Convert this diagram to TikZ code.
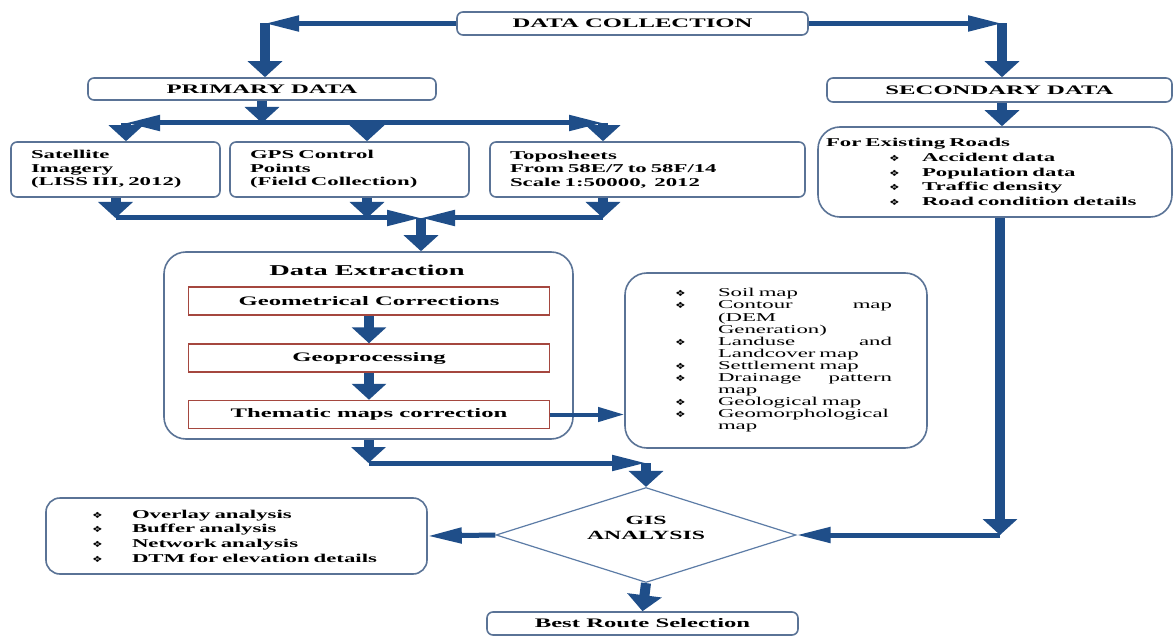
\documentclass[tikz,border=0pt]{standalone}
\usepackage{fontspec}
\setmainfont{Liberation Serif}[FakeStretch=1.9]
\newfontfamily\symf{DejaVu Sans}[FakeStretch=1.4]
\usetikzlibrary{arrows.meta,shapes.geometric}
\definecolor{arrc}{HTML}{1F4E89}
\definecolor{bordc}{HTML}{5A7396}
\definecolor{redc}{HTML}{A5473F}
\definecolor{diac}{HTML}{5C7CA6}
\newcommand\bul{{\symf\fontsize{8.5}{8.5}\selectfont ❖}}
\newcommand\litem[3]{\hspace*{#1}\makebox[#2][l]{\bul}#3}
\newcommand\thl[2]{\hspace*{40pt}\makebox[43pt][l]{#1}#2}
\newcommand\jl[2]{\makebox[174pt][l]{#1\hfill #2}}
\begin{document}
\begin{tikzpicture}[x=1pt,y=-1pt,
  box/.style={draw=bordc, line width=1.6pt, fill=white, rounded corners=6pt, inner sep=0pt,
    font=\bfseries\fontsize{13}{15}\selectfont},
  sbox/.style={box, align=left, font=\bfseries\fontsize{12}{13.5}\selectfont},
  bigbox/.style={box, rounded corners=22pt},
  redbox/.style={draw=redc, line width=1.5pt, fill=white, inner sep=0pt,
    minimum width=361pt, minimum height=28pt, font=\bfseries\fontsize{13}{15}\selectfont},
  varrow/.style={draw=arrc, line width=10pt, -{Triangle[width=34pt,length=16pt]}},
  harrow/.style={draw=arrc, line width=5pt, -{Triangle[width=15pt,length=34pt]}},
  tharrow/.style={draw=arrc, line width=4pt, -{Triangle[width=14pt,length=26pt]}},
]
\useasboundingbox (0,0) rectangle (1174,636);
\fill[white] (0,0) rectangle (1174,636);

% top level
\node[box, minimum width=351pt, minimum height=23pt] (dc) at (632.5,23.5) {DATA COLLECTION};
\node[box, minimum width=348pt, minimum height=22pt] (pd) at (262,89) {PRIMARY DATA};
\node[box, minimum width=345pt, minimum height=24pt] (sd) at (999.5,90) {SECONDARY DATA};

% primary sources
\node[sbox, minimum width=209pt, minimum height=55pt, text width=169pt, inner xsep=20pt] (sat) at (115.5,169.5)
  {\mbox{Satellite}\\\mbox{Imagery}\\\mbox{(LISS III, 2012)}};
\node[sbox, minimum width=239pt, minimum height=55pt, text width=199pt, inner xsep=20pt] (gps) at (349.5,169.5)
  {\mbox{GPS Control}\\\mbox{Points}\\\mbox{(Field Collection)}};
\node[sbox, minimum width=315pt, minimum height=55pt, text width=275pt, inner xsep=20pt] (topo) at (647.5,169.5)
  {\mbox{Toposheets}\\\mbox{From 58E/7 to 58F/14}\\\mbox{Scale 1:50000,\ \ 2012}};

% secondary
\node[bigbox, align=left, font=\bfseries\fontsize{12}{14.7}\selectfont, minimum width=354pt, minimum height=90pt,
  text width=338pt, inner xsep=8pt] (fer) at (995,172)
  {For Existing Roads\\
   \litem{63pt}{33pt}{Accident data}\\
   \litem{63pt}{33pt}{Population data}\\
   \litem{63pt}{33pt}{Traffic density}\\
   \litem{63pt}{33pt}{Road condition details}};

% data extraction
\node[bigbox, minimum width=409pt, minimum height=187pt] (de) at (368.5,345.5) {};
\node[font=\bfseries\fontsize{15}{17}\selectfont, inner sep=0pt] (detitle) at (367,270) {Data Extraction};
\node[redbox] (gc) at (369,301) {Geometrical Corrections};
\node[redbox] (gp) at (369,358) {Geoprocessing};
\node[redbox] (tm) at (369,414.5) {Thematic maps correction};

% thematic maps list
\node[bigbox, align=left, font=\fontsize{12}{12.1}\selectfont, minimum width=302pt, minimum height=175pt,
  text width=282pt, inner xsep=10pt] (theme) at (776,360.5)
  {\thl{\bul}{Soil map}\\
   \thl{\bul}{\jl{Contour}{map}}\\
   \thl{}{(DEM}\\
   \thl{}{Generation)}\\
   \thl{\bul}{\jl{Landuse}{and}}\\
   \thl{}{Landcover map}\\
   \thl{\bul}{Settlement map}\\
   \thl{\bul}{\jl{Drainage}{pattern}}\\
   \thl{}{map}\\
   \thl{\bul}{Geological map}\\
   \thl{\bul}{Geomorphological}\\
   \thl{}{map}};

% GIS analysis
\node[diamond, draw=diac, line width=1.2pt, fill=white, aspect=3.16, minimum width=300pt, minimum height=95pt,
  inner sep=0pt] (gis) at (646,535) {};
\node[align=center, inner sep=0pt, font=\bfseries\fontsize{12.5}{15}\selectfont] (gistext) at (646,528) {GIS\\ANALYSIS};

\node[bigbox, rounded corners=14pt, align=left, font=\bfseries\fontsize{12}{14.6}\selectfont, minimum width=381pt,
  minimum height=76pt, text width=361pt, inner xsep=10pt] (ana) at (236.5,536)
  {\litem{36pt}{40pt}{Overlay analysis}\\
   \litem{36pt}{40pt}{Buffer analysis}\\
   \litem{36pt}{40pt}{Network analysis}\\
   \litem{36pt}{40pt}{DTM for elevation details}};

\node[box, minimum width=311pt, minimum height=23pt] (best) at (642.5,623.5) {Best Route Selection};

% coordinates for elbows
\coordinate (c1) at (265,23.5);
\coordinate (c2) at (1002,23.5);
\coordinate (b0) at (262,123);
\coordinate (bl) at (126,123);
\coordinate (bg) at (367,123);
\coordinate (br) at (603,123);
\coordinate (dl) at (115.5,218);
\coordinate (dg) at (367,218);
\coordinate (dr) at (603,218);
\coordinate (dm) at (421,218);
\coordinate (e2) at (646,463);
\coordinate (f1) at (1000,535);

% connectors
\draw[harrow] (dc.west) -- (c1);
\draw[varrow] (c1) -- (c1 |- pd.north);
\draw[harrow] (dc.east) -- (c2);
\draw[varrow] (c2) -- (c2 |- sd.north);
\draw[varrow] (sd.south -| c2) -- (c2 |- fer.north);

\draw[varrow] (pd.south) -- (b0);
\draw[harrow] (b0) -- (bl);
\draw[varrow] (bl) -- (bl |- sat.north);
\draw[harrow] (b0) -- (br);
\draw[varrow] (br) -- (br |- topo.north);
\draw[varrow] (bg) -- (bg |- gps.north);

\draw[varrow] (sat.south) -- (dl);
\draw[varrow] (dg |- gps.south) -- (dg);
\draw[varrow] (dr |- topo.south) -- (dr);
\draw[harrow] (dl) -- (dm);
\draw[harrow] (dr) -- (dm);
\draw[varrow] (dm) -- (dm |- de.north);

\draw[varrow] (gc.south) -- (gp.north);
\draw[varrow] (gp.south) -- (tm.north);
\draw[tharrow] (tm.east) -- (theme.west |- tm.east);

\draw[varrow] (de.south) -- (de.south |- e2);
\draw[harrow] (de.south |- e2) -- (e2);
\draw[varrow] (e2) -- (gis.north);

\draw[varrow] (f1 |- fer.south) -- (f1);
\draw[harrow] (f1) -- (gis.east);
\draw[harrow] (gis.west) -- (ana.east);
\draw[varrow] (gis.south) -- (best.north);
\end{tikzpicture}
\end{document}
